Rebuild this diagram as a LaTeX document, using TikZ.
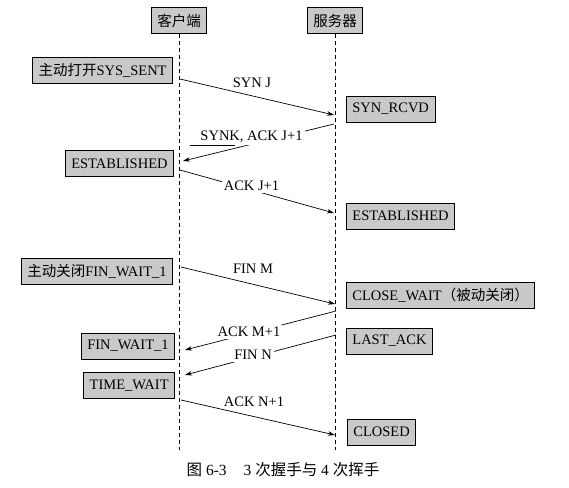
\documentclass[tikz,border=0pt]{standalone}
\usepackage{fontspec}
\setmainfont{Liberation Serif}
\newfontfamily\cjk{Noto Sans CJK SC}
\usetikzlibrary{arrows.meta}
\definecolor{boxgray}{gray}{0.79}

\begin{document}
\begin{tikzpicture}[x=1pt,y=-1pt]
   \tikzstyle{every node}=[font=\fontsize{14.5}{17}\selectfont]
   \tikzstyle{statebox}=[draw, fill=boxgray, line width=0.8pt, minimum height=26pt, inner xsep=6pt, inner ysep=0pt]
   \tikzstyle{lifeline}=[dash pattern=on 4pt off 3pt, line width=0.7pt]
   \tikzstyle{msg}=[-{Stealth[length=7pt,width=4.5pt]}, line width=0.7pt]
   \tikzstyle{msgtext}=[fill=white, inner sep=2pt]

   \useasboundingbox[fill=white] (0,0) rectangle (569,487);

\node[statebox] (client) at (179,20.5) {\cjk 客户端};
\node[statebox] (server) at (335,20.5) {\cjk 服务器};
\coordinate (clientend) at (179,450);
\coordinate (serverend) at (335,450);
\draw[lifeline] (client.south) -- (clientend);
\draw[lifeline] (server.south) -- (serverend);

\node[statebox, anchor=east] (synsent) at (173,70) {{\cjk 主动打开}SYS\_SENT};
\node[statebox, anchor=west] (synrcvd) at (346,109) {SYN\_RCVD};
\node[statebox, anchor=east] (estclient) at (174,163.5) {ESTABLISHED};
\node[statebox, anchor=west] (estserver) at (346,216) {ESTABLISHED};
\node[statebox, anchor=east] (finwait) at (173,271.5) {{\cjk 主动关闭}FIN\_WAIT\_1};
\node[statebox, anchor=west] (closewait) at (346,295.5) {CLOSE\_WAIT{\cjk （被动关闭）}};
\node[statebox, anchor=west] (lastack) at (346,341) {LAST\_ACK};
\node[statebox, anchor=east] (finwaitb) at (175,346) {FIN\_WAIT\_1};
\node[statebox, anchor=east] (timewait) at (175,385.5) {TIME\_WAIT};
\node[statebox, anchor=west] (closed) at (347,432) {CLOSED};

\coordinate (c1) at (180,79);
\coordinate (s1) at (334,115);
\coordinate (s2) at (334,124);
\coordinate (c2) at (183,161);
\coordinate (c3) at (180,170);
\coordinate (s3) at (334,213);
\coordinate (c4) at (181,267);
\coordinate (s4) at (335,304);
\coordinate (s5) at (336,311);
\coordinate (c5) at (185,350);
\coordinate (s6) at (336,335);
\coordinate (c6) at (185,375);
\coordinate (c7) at (181,400);
\coordinate (s7) at (335,435);

\draw[msg] (c1) -- (s1);
\draw[msg] (s2) -- (c2);
\draw[msg] (c3) -- (s3);
\draw[msg] (c4) -- (s4);
\draw[msg] (s5) -- (c5);
\draw[msg] (s6) -- (c6);
\draw[msg] (c7) -- (s7);

\node[msgtext] (synj) at (252,83) {SYN J};
\node[msgtext] (synack) at (251.5,137) {SYNK, ACK J+1};
\node[msgtext] (ackj) at (251.5,186) {ACK J+1};
\node[msgtext] (finm) at (253,269) {FIN M};
\node[msgtext] (ackm) at (249,332) {ACK M+1};
\node[msgtext] (finn) at (253,355) {FIN N};
\node[msgtext] (ackn) at (254,402) {ACK N+1};

\coordinate (ulstart) at (190,145);
\coordinate (ulend) at (235,145);
\draw[line width=0.8pt] (ulstart) -- (ulend);

\node[font=\fontsize{15.5}{18}\selectfont] (caption) at (283,470) {{\cjk 图}~6-3\hspace{1.1em}3~{\cjk 次握手与}~4~{\cjk 次挥手}};

\end{tikzpicture}
\end{document}
